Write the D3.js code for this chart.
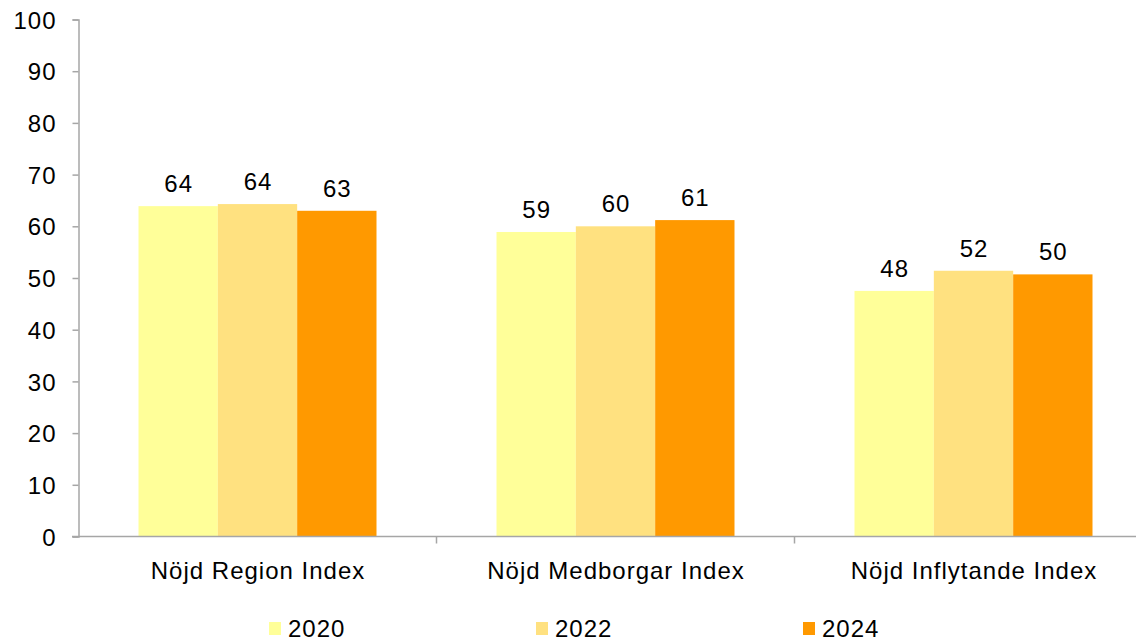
<!DOCTYPE html>
<html>
<head>
<meta charset="utf-8">
<script src="https://cdn.jsdelivr.net/npm/d3@7"></script>
<style>
  body { margin: 0; background: #fff; }
  text { font-family: "Liberation Sans", Arial, sans-serif; fill: #000; letter-spacing: 1px; }
</style>
</head>
<body>
<div id="chart"></div>
<script>
const categories = ["Nöjd Region Index", "Nöjd Medborgar Index", "Nöjd Inflytande Index"];
const years = ["2020", "2022", "2024"];
const values2020 = [63.9, 58.9, 47.5];
const values2022 = [64.3, 60.0, 51.4];
const values2024 = [63.0, 61.2, 50.7];
// data labels as printed on the chart
const labels2020 = ["64", "59", "48"];
const labels2022 = ["64", "60", "52"];
const labels2024 = ["63", "61", "50"];
const yTicks = [0, 10, 20, 30, 40, 50, 60, 70, 80, 90, 100];
const colors = ["#ffff99", "#ffe180", "#ff9900"];

const width = 1136, height = 641;
const series = [values2020, values2022, values2024];
const labels = [labels2020, labels2022, labels2024];

const svg = d3.select("#chart").append("svg")
    .attr("width", width)
    .attr("height", height);

const x = d3.scaleBand()
    .domain(categories)
    .range([78.5, 78.5 + 358 * 3])
    .paddingInner(0)
    .paddingOuter(0);

const x1 = d3.scaleBand()
    .domain(years)
    .range([60, 358 - 60]);

const y = d3.scaleLinear()
    .domain([0, 100])
    .range([536.5, 19.5]);

// bars
const groups = svg.append("g").selectAll("g")
    .data(categories)
    .enter().append("g")
    .attr("transform", function(d) { return "translate(" + x(d) + ",0)"; });

groups.selectAll("rect")
    .data(function(d, i) { return years.map(function(yr, j) { return {yr: yr, v: series[j][i], c: colors[j]}; }); })
    .enter().append("rect")
    .attr("x", function(d) { return x1(d.yr); })
    .attr("width", x1.bandwidth())
    .attr("y", function(d) { return y(d.v); })
    .attr("height", function(d) { return y(0) - y(d.v); })
    .style("fill", function(d) { return d.c; });

groups.selectAll("text.val")
    .data(function(d, i) { return years.map(function(yr, j) { return {yr: yr, v: series[j][i], l: labels[j][i]}; }); })
    .enter().append("text")
    .attr("class", "val")
    .attr("x", function(d) { return x1(d.yr) + x1.bandwidth() / 2 + 0.5; })
    .attr("y", function(d) { return y(d.v) - 14; })
    .attr("text-anchor", "middle")
    .style("font-size", "24px")
    .text(function(d) { return d.l; });

// y axis
const yAxis = svg.append("g")
    .attr("transform", "translate(78.5,0)")
    .call(d3.axisLeft(y).tickValues(yTicks).tickSize(6).tickPadding(16));
yAxis.select(".domain").attr("stroke", "#a6a6a6").attr("stroke-width", 1.5);
yAxis.selectAll(".tick line").attr("stroke", "#a6a6a6").attr("stroke-width", 1.5);
yAxis.selectAll(".tick text").style("font-size", "24px").attr("dy", "0.36em");

// x axis
const xAxisG = svg.append("g")
    .attr("transform", "translate(0,536.5)");
xAxisG.append("line")
    .attr("x1", 72).attr("x2", width)
    .attr("stroke", "#a6a6a6").attr("stroke-width", 1.5);
xAxisG.selectAll("line.tk")
    .data(categories.slice(1))
    .enter().append("line")
    .attr("class", "tk")
    .attr("x1", function(d) { return x(d); })
    .attr("x2", function(d) { return x(d); })
    .attr("y1", 0).attr("y2", 7)
    .attr("stroke", "#a6a6a6").attr("stroke-width", 1.5);
xAxisG.selectAll("text")
    .data(categories)
    .enter().append("text")
    .attr("x", function(d) { return x(d) + x.bandwidth() / 2 + 0.5; })
    .attr("y", 42)
    .attr("text-anchor", "middle")
    .style("font-size", "24px")
    .text(function(d) { return d; });

// legend
const legendX = [269, 536, 803];
const legend = svg.append("g").selectAll("g")
    .data(years)
    .enter().append("g")
    .attr("transform", function(d, i) { return "translate(" + legendX[i] + ",622)"; });
legend.append("rect")
    .attr("width", 12).attr("height", 13)
    .style("fill", function(d, i) { return colors[i]; });
legend.append("text")
    .attr("x", 19).attr("y", 15)
    .style("font-size", "24px")
    .text(function(d) { return d; });
</script>
</body>
</html>
